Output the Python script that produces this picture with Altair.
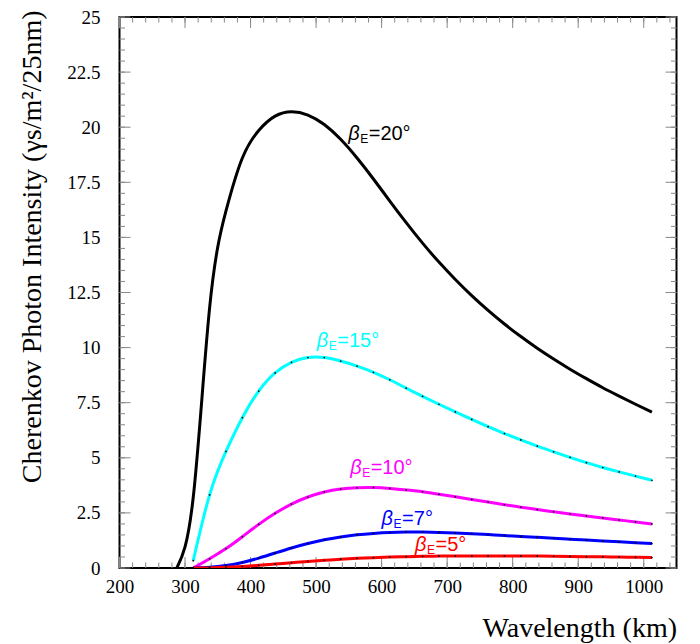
import altair as alt
import pandas as pd

# ---- data ----
wl = [312.5, 337.5, 362.5, 387.5, 412.5, 437.5, 462.5, 487.5, 512.5, 537.5,
      562.5, 587.5, 612.5, 637.5, 662.5, 687.5, 712.5, 737.5, 762.5, 787.5,
      812.5, 837.5, 862.5, 887.5, 912.5, 937.5, 962.5, 987.5, 1012.5]
wl_black = [287.5] + wl

beta20 = [0.0, 3.2, 11.8, 16.2, 18.6, 19.85, 20.5, 20.7, 20.55, 20.12, 19.45,
          18.6, 17.65, 16.65, 15.67, 14.74, 13.88, 13.09, 12.36, 11.69,
          11.07, 10.5, 9.97, 9.48, 9.02, 8.59, 8.18, 7.8, 7.43, 7.07]
beta15 = [0.33, 3.32, 5.29, 6.82, 8.03, 8.85, 9.33, 9.55, 9.55, 9.39, 9.16,
          8.88, 8.54, 8.16, 7.79, 7.43, 7.08, 6.74, 6.41, 6.10, 5.81, 5.53,
          5.27, 5.02, 4.78, 4.56, 4.36, 4.17, 3.98]
beta10 = [0.0, 0.42, 0.88, 1.42, 1.98, 2.48, 2.90, 3.22, 3.45, 3.58, 3.64,
          3.65, 3.61, 3.54, 3.46, 3.35, 3.23, 3.11, 2.99, 2.87, 2.76, 2.65,
          2.55, 2.45, 2.36, 2.27, 2.18, 2.09, 2.00]
beta7 = [0.0, 0.03, 0.11, 0.25, 0.45, 0.68, 0.91, 1.11, 1.28, 1.41, 1.51,
         1.57, 1.61, 1.63, 1.63, 1.615, 1.59, 1.555, 1.515, 1.47, 1.43, 1.39,
         1.35, 1.31, 1.27, 1.23, 1.19, 1.15, 1.11]
beta5 = [0.0, 0.005, 0.03, 0.07, 0.12, 0.18, 0.24, 0.30, 0.35, 0.40, 0.44,
         0.47, 0.495, 0.515, 0.53, 0.54, 0.545, 0.55, 0.55, 0.548, 0.545,
         0.54, 0.533, 0.525, 0.515, 0.505, 0.495, 0.485, 0.475]

series_names = ["20", "15", "10", "7", "5"]
series_colors = ["#000000", "#00ffff", "#ff00ff", "#0000ff", "#ff0000"]

label_text = ["=20°", "=15°", "=10°", "=7°", "=5°"]
label_x = [549, 501, 552, 600, 651]
label_y = [19.7, 10.3, 4.54, 2.23, 1.03]

x_major = [200, 300, 400, 500, 600, 700, 800, 900, 1000]
y_major = [0, 2.5, 5, 7.5, 10, 12.5, 15, 17.5, 20, 22.5, 25]
x_minor = list(range(200, 1050, 20))
y_minor = [i * 0.5 for i in range(0, 51)]

# ---- tables ----
rows = []
for name, xs, ys in [("20", wl_black, beta20), ("15", wl, beta15),
                     ("10", wl, beta10), ("7", wl, beta7), ("5", wl, beta5)]:
    for x, y in zip(xs, ys):
        rows.append({"series": name, "wl": x, "intensity": y})
df = pd.DataFrame(rows)

labels = pd.DataFrame({"series": series_names, "wl": label_x,
                       "intensity": label_y, "txt": label_text})

W, H = 557, 551
TICK_MAJ, TICK_MIN = 11, 5.5
TICK_COLOR = "#888888"

xscale = alt.Scale(domain=[200, 1050], nice=False, zero=False)
yscale = alt.Scale(domain=[0, 25], nice=False, zero=False)
cscale = alt.Scale(domain=series_names, range=series_colors)

x_axis = alt.Axis(values=x_major, labelExpr="'' + datum.value",
                  title="Wavelength (km)", titleAnchor="end",
                  titleAlign="right", titleBaseline="alphabetic",
                  titleX=W, titleY=68, labelPadding=9, labelFlush=False)
y_axis = alt.Axis(values=y_major, labelExpr="'' + datum.value",
                  title="Cherenkov Photon Intensity (γs/m²/25nm)",
                  titleAnchor="end", titleAlign="right",
                  titleBaseline="alphabetic", titleAngle=270,
                  titleX=-79, titleY=-7, labelPadding=19.5, labelFlush=False)

base = alt.Chart(df)

lines = base.mark_line(strokeWidth=3, interpolate="natural", clip=True).encode(
    x=alt.X("wl:Q", scale=xscale, axis=x_axis),
    y=alt.Y("intensity:Q", scale=yscale, axis=y_axis),
    color=alt.Color("series:N", scale=cscale, legend=None),
    detail="series:N",
)

dots = alt.Chart(df[df.series != "20"]).mark_circle(
    size=3, color="black", opacity=1, clip=True).encode(
    x="wl:Q", y="intensity:Q")


def xticks(vals, length, top):
    d = pd.DataFrame({"wl": vals})
    if top:
        return alt.Chart(d).mark_rule(color=TICK_COLOR, strokeWidth=1).encode(
            x="wl:Q", y=alt.value(0), y2=alt.value(length))
    return alt.Chart(d).mark_rule(color=TICK_COLOR, strokeWidth=1).encode(
        x="wl:Q", y=alt.value(H), y2=alt.value(H - length))


def yticks(vals, length, right):
    d = pd.DataFrame({"intensity": vals})
    if right:
        return alt.Chart(d).mark_rule(color=TICK_COLOR, strokeWidth=1).encode(
            y="intensity:Q", x=alt.value(W), x2=alt.value(W - length))
    return alt.Chart(d).mark_rule(color=TICK_COLOR, strokeWidth=1).encode(
        y="intensity:Q", x=alt.value(0), x2=alt.value(length))


ticks = [xticks(x_minor, TICK_MIN, False), xticks(x_major, TICK_MAJ, False),
         xticks(x_minor, TICK_MIN, True), xticks(x_major, TICK_MAJ, True),
         yticks(y_minor, TICK_MIN, False), yticks(y_major, TICK_MAJ, False),
         yticks(y_minor, TICK_MIN, True), yticks(y_major, TICK_MAJ, True)]

lab = alt.Chart(labels)
lab_beta = lab.mark_text(text="β", font="Liberation Sans", fontSize=20,
                         fontStyle="italic", align="left", baseline="middle").encode(
    x="wl:Q", y="intensity:Q",
    color=alt.Color("series:N", scale=cscale, legend=None))
lab_sub = lab.mark_text(text="E", font="Liberation Sans", fontSize=12,
                        align="left", baseline="middle", dx=12, dy=5).encode(
    x="wl:Q", y="intensity:Q",
    color=alt.Color("series:N", scale=cscale, legend=None))
lab_rest = lab.mark_text(font="Liberation Sans", fontSize=20,
                         align="left", baseline="middle", dx=20.5).encode(
    x="wl:Q", y="intensity:Q", text="txt:N",
    color=alt.Color("series:N", scale=cscale, legend=None))

chart = alt.layer(*ticks, lines, dots, lab_beta, lab_sub, lab_rest).properties(
    width=W, height=H,
    autosize=alt.AutoSizeParams(type="none"),
    padding={"left": 111.5, "top": 9, "right": 15, "bottom": 75},
).configure_view(
    stroke="black", strokeWidth=2
).configure_axis(
    domain=False, ticks=False, tickSize=0, grid=False,
    labelFont="Liberation Serif", labelFontSize=19, labelColor="black",
    titleFont="Liberation Serif", titleFontSize=28, titleFontWeight="normal",
    titleColor="black",
)

chart.save("out.html", embed_options={"renderer": "svg", "actions": False})
